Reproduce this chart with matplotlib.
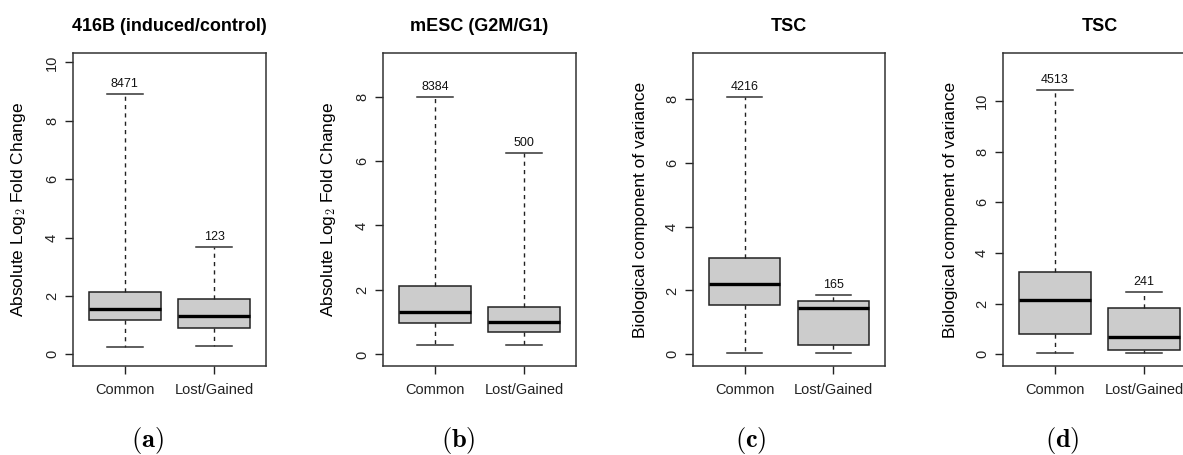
import matplotlib
matplotlib.use('Agg')
import matplotlib.pyplot as plt

plt.rcParams['font.family'] = ['Liberation Sans', 'DejaVu Sans']
plt.rcParams['mathtext.fontset'] = 'cm'

groups = ['Common', 'Lost/Gained']

# box statistics per panel: (whisker low, Q1, median, Q3, whisker high), and counts
titles = ['416B (induced/control)', 'mESC (G2M/G1)', 'TSC', 'TSC']
ylabels = ['Absolute Log$_2$ Fold Change', 'Absolute Log$_2$ Fold Change',
           'Biological component of variance', 'Biological component of variance']
captions = ['(a)', '(b)', '(c)', '(d)']

stats_a = [(0.26, 1.16, 1.55, 2.14, 8.91), (0.27, 0.91, 1.30, 1.88, 3.66)]
stats_b = [(0.30, 0.98, 1.31, 2.13, 7.98), (0.28, 0.68, 1.01, 1.47, 6.24)]
stats_c = [(0.04, 1.55, 2.20, 3.03, 8.07), (0.04, 0.29, 1.45, 1.67, 1.86)]
stats_d = [(0.05, 0.79, 2.13, 3.24, 10.43), (0.05, 0.18, 0.70, 1.84, 2.45)]

counts_a = [8471, 123]
counts_b = [8384, 500]
counts_c = [4216, 165]
counts_d = [4513, 241]

ylims = [(-0.40, 10.32), (-0.36, 9.35), (-0.37, 9.45), (-0.46, 11.9)]
yticks = [[0, 2, 4, 6, 8, 10], [0, 2, 4, 6, 8], [0, 2, 4, 6, 8], [0, 2, 4, 6, 8, 10]]

all_stats = [stats_a, stats_b, stats_c, stats_d]
all_counts = [counts_a, counts_b, counts_c, counts_d]

W, H = 1183, 455
fig = plt.figure(figsize=(W / 100, H / 100), dpi=100)

# axes boxes in pixels: left, right, top, bottom
boxes = [(73, 266, 53, 366), (383, 576, 53, 366), (693, 885, 53, 366), (1003, 1196, 53, 366)]
caption_x = [147, 458, 751, 1062]

for i in range(4):
    l, r, t, b = boxes[i]
    ax = fig.add_axes([l / W, 1 - b / H, (r - l) / W, (b - t) / H])
    bxp = []
    for g, s in zip(groups, all_stats[i]):
        bxp.append(dict(label=g, whislo=s[0], q1=s[1], med=s[2], q3=s[3], whishi=s[4], fliers=[]))
    ax.bxp(bxp, positions=[1, 2], widths=0.8, patch_artist=True, showfliers=False,
           boxprops=dict(facecolor='#cccccc', edgecolor='#222222', linewidth=1.1),
           medianprops=dict(color='black', linewidth=2.4),
           whiskerprops=dict(color='#222222', linestyle=(0, (3, 3)), linewidth=1),
           capprops=dict(color='#333333', linewidth=1.1),
           capwidths=0.4)
    for pos, s, n in zip([1, 2], all_stats[i], all_counts[i]):
        ax.annotate(str(n), (pos, s[4]), xytext=(0, 3), textcoords='offset points',
                    ha='center', va='bottom', fontsize=9, color='#111111')
    ax.set_xlim(0.42, 2.58)
    ax.set_ylim(*ylims[i])
    ax.set_yticks(yticks[i])
    ax.set_yticklabels([str(v) for v in yticks[i]], rotation=90, va='center')
    ax.set_xticks([1, 2])
    ax.set_xticklabels(groups)
    ax.tick_params(direction='out', length=6, width=1, labelsize=10.5, colors='#222222')
    ax.tick_params(axis='y', pad=4)
    ax.tick_params(axis='x', pad=6)
    for sp in ax.spines.values():
        sp.set_color('#333333')
        sp.set_linewidth(1.1)
    ax.set_ylabel(ylabels[i], fontsize=12.5, labelpad=12)
    ax.set_title(titles[i], fontsize=13, fontweight='bold', pad=16)
    fig.text(caption_x[i] / W, 1 - 440 / H, r'$\mathbf{' + captions[i] + '}$',
             ha='center', va='center', fontsize=19)

fig.savefig('out.png', dpi=100)
